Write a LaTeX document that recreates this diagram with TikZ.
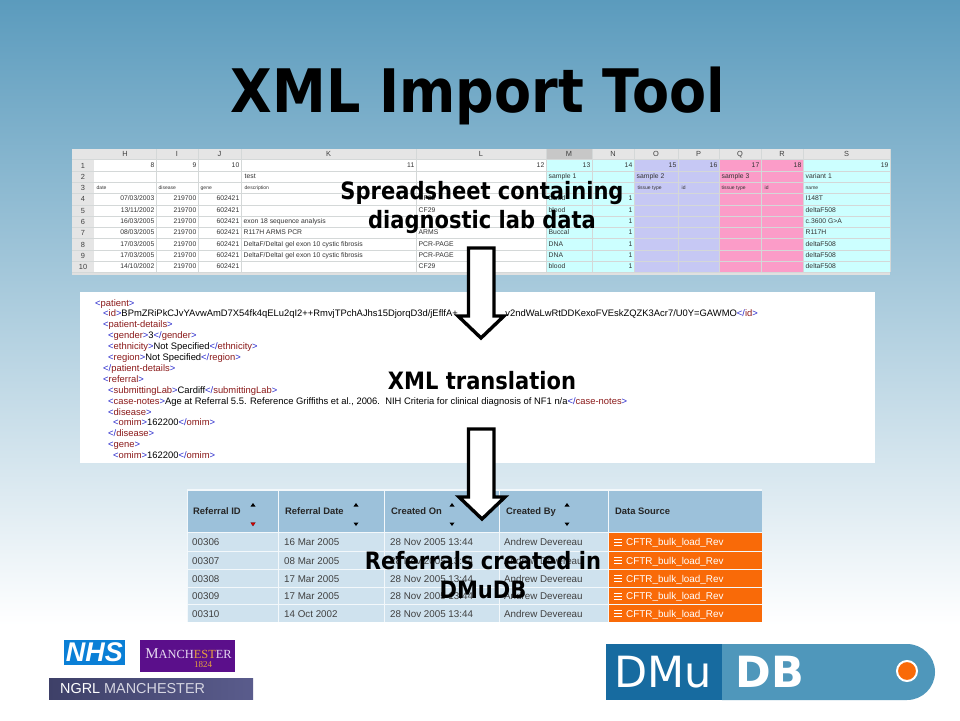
\documentclass[tikz,border=0pt]{standalone}
\usepackage{fontspec}
\setmainfont{Liberation Sans}
\newfontfamily\labelfont[FakeStretch=0.88]{DejaVu Sans}
\newfontfamily\titlefont[FakeStretch=0.9]{DejaVu Sans}
\newfontfamily\logofont{DejaVu Sans}
\newfontfamily\serifont{Liberation Serif}

\definecolor{xmlblue}{HTML}{2A2ACC}
\definecolor{xmlred}{HTML}{8B1A1A}
\definecolor{tablehead}{HTML}{9CC1DA}
\definecolor{tablerow}{HTML}{CFE2EE}
\definecolor{srcorange}{HTML}{F96A08}
\definecolor{cellgrid}{HTML}{D4D8D8}
\definecolor{bgtop}{HTML}{5B9BBD}
\definecolor{bgmid}{HTML}{A8CADC}
\definecolor{sheetcyan}{HTML}{CCFFFF}
\definecolor{sheetblue}{HTML}{C6C8F4}
\definecolor{sheetpink}{HTML}{FB9CC8}
\definecolor{nhsblue}{HTML}{0A7FD6}
\definecolor{uompurple}{HTML}{5B0F8B}
\definecolor{uomtext}{HTML}{E6D8F0}
\definecolor{uomgold}{HTML}{E8A33C}
\definecolor{ngrlleft}{HTML}{3E4068}
\definecolor{ngrlright}{HTML}{5A5C8C}
\definecolor{dmudark}{HTML}{176BA0}
\definecolor{dmulight}{HTML}{4F97BB}

\pgfdeclareverticalshading{slidebg}{100bp}{
  color(0bp)=(white); color(31.6bp)=(white); color(54.9bp)=(bgmid); color(75bp)=(bgtop); color(100bp)=(bgtop)}

\newcommand{\xtag}[1]{{\color{xmlblue}<}{\color{xmlred}#1}{\color{xmlblue}>}}
\newcommand{\xend}[1]{{\color{xmlblue}</}{\color{xmlred}#1}{\color{xmlblue}>}}

\tikzset{
  bigarrow/.style={draw=black, fill=white, line width=3.4pt, miter limit=10},
  overlabel/.style={font=\labelfont\bfseries\fontsize{23.9}{29}\selectfont, anchor=base, text=black},
  gridtext/.style={font=\fontsize{6.8}{8}\selectfont, text=black!80, inner sep=1.5pt, text height=5pt, text depth=1.5pt},
  headtext/.style={font=\fontsize{7.4}{8}\selectfont, text=black!75, inner sep=0pt, text height=5.5pt, text depth=0pt},
  tinytext/.style={font=\fontsize{5}{6}\selectfont, text=black!80, inner sep=1.5pt, text height=5pt, text depth=1.5pt},
  xmlline/.style={font=\fontsize{9.4}{11}\selectfont, anchor=west, inner sep=0pt, text height=7pt, text depth=2pt},
  refhead/.style={font=\bfseries\fontsize{9.4}{10}\selectfont, text=black!85, anchor=west, inner sep=0pt, text height=7pt, text depth=2pt},
  refcell/.style={font=\fontsize{9.8}{11}\selectfont, text=black!75, anchor=west, inner sep=0pt, text height=7pt, text depth=2pt},
  srccell/.style={font=\fontsize{9.9}{11}\selectfont, text=white, anchor=west, inner sep=0pt, text height=7pt, text depth=2pt},
}

\begin{document}
\begin{tikzpicture}[x=1pt, y=-1pt]
  \useasboundingbox (0, 0) rectangle (960, 720);
  \shade[shading=slidebg] (0, 0) rectangle (960, 720);

  \node[font=\titlefont\bfseries\fontsize{60}{70}\selectfont, anchor=base] (title) at (478, 112) {XML Import Tool};

  % spreadsheet
  \fill[white] (72, 149) rectangle (890, 275);
  \fill[black!10] (72, 149) rectangle (890, 159);
  \fill[black!10] (72, 159) rectangle (94, 272);
  \fill[black!22] (546, 149) rectangle (592, 159);
  \fill[sheetcyan] (546, 159) rectangle (634, 272);
  \fill[sheetcyan] (803, 159) rectangle (890, 272);
  \fill[sheetblue] (634, 159) rectangle (719, 272);
  \fill[sheetpink] (719, 159) rectangle (803, 272);
  \fill[black!12] (72, 272) rectangle (890, 275);
  \foreach \r in {0,...,10}
    \draw[cellgrid, thin] (72, 159.5 + \r*11.3) -- (890, 159.5 + \r*11.3);
  \foreach \c/\n/\cr/\v in {94/H/156/8, 156/I/198/9, 198/J/241/10, 241/K/416/11, 416/L/546/12, 546/M/592/13, 592/N/634/14, 634/O/678/15, 678/P/719/16, 719/Q/761/17, 761/R/803/18, 803/S/890/19} {
    \draw[cellgrid, thin] (\cr, 149) -- (\cr, 272);
    \node[headtext] (col\n) at ({(\c + \cr)/2}, 154) {\n};
    \node[gridtext, anchor=east] (num\n) at (\cr, 165.5) {\v};
  }
  \foreach \r in {1,...,10}
    \node[headtext] (rowhead\r) at (83, 154 + \r*11.3) {\r};

  \node[gridtext, anchor=west] (testcell) at (243, 176.8) {test};
  \foreach \c/\t in {547/sample 1, 635/sample 2, 720/sample 3, 804/variant 1}
    \node[gridtext, anchor=west] at (\c, 176.8) {\t};
  \foreach \c/\t in {95/date, 157/disease, 199/gene, 243/description, 636/tissue type, 680/id, 720/tissue type, 763/id, 804/name}
    \node[tinytext, anchor=west] at (\c, 188.1) {\t};

  \foreach \r/\d/\k/\l/\m/\s in {
    4/{07/03/2003}//CF29/blood/I148T,
    5/{13/11/2002}//CF29/blood/deltaF508,
    6/{16/03/2005}/exon 18 sequence analysis///c.3600 G>A,
    7/{08/03/2005}/R117H ARMS PCR/ARMS/Buccal/R117H,
    8/{17/03/2005}/{DeltaF/DeltaI gel exon 10 cystic fibrosis}/PCR-PAGE/DNA/deltaF508,
    9/{17/03/2005}/{DeltaF/DeltaI gel exon 10 cystic fibrosis}/PCR-PAGE/DNA/deltaF508,
    10/{14/10/2002}//CF29/blood/deltaF508} {
    \node[gridtext, anchor=east] at (156, 154 + \r*11.3) {\d};
    \node[gridtext, anchor=east] at (198, 154 + \r*11.3) {219700};
    \node[gridtext, anchor=east] at (241, 154 + \r*11.3) {602421};
    \node[gridtext, anchor=west] at (242, 154 + \r*11.3) {\k};
    \node[gridtext, anchor=west] at (417, 154 + \r*11.3) {\l};
    \node[gridtext, anchor=west] at (547, 154 + \r*11.3) {\m};
    \node[gridtext, anchor=east] at (634, 154 + \r*11.3) {1};
    \node[gridtext, anchor=west] at (804, 154 + \r*11.3) {\s};
  }

  % xml listing
  \fill[white] (80, 292) rectangle (875, 463);
  \foreach \i/\x/\t in {
    0/95/\xtag{patient},
    2/103/\xtag{patient-details},
    3/108/{\xtag{gender}3\xend{gender}},
    4/108/{\xtag{ethnicity}Not Specified\xend{ethnicity}},
    5/108/{\xtag{region}Not Specified\xend{region}},
    6/103/\xend{patient-details},
    7/103/\xtag{referral},
    8/108/{\xtag{submittingLab}Cardiff\xend{submittingLab}},
    9/108/{\xtag{case-notes}Age at Referral 5.5. Reference Griffiths et al., 2006.\ \ NIH Criteria for clinical diagnosis of NF1 n/a\xend{case-notes}},
    10/108/\xtag{disease},
    11/113/{\xtag{omim}162200\xend{omim}},
    12/108/\xend{disease},
    13/108/\xtag{gene},
    14/113/{\xtag{omim}162200\xend{omim}}}
    \node[xmlline] at (\x, 303.5 + \i*10.9) {\t};
  \node[xmlline] (idstart) at (103, 314.4) {\xtag{id}BPmZRiPkCJvYAvwAmD7X54fk4qELu2qI2++RmvjTPchAJhs15DjorqD3d/jEflfA+};
  \node[xmlline, anchor=east] (idend) at (758, 314.4) {v2ndWaLwRtDDKexoFVEskZQZK3Acr7/U0Y=GAWMO\xend{id}};

  % referral table
  \fill[white!88!tablehead] (187, 489) rectangle (762, 622);
  \fill[tablehead] (188, 491) rectangle (278, 532);
  \fill[tablehead] (279, 491) rectangle (384, 532);
  \fill[tablehead] (385, 491) rectangle (499, 532);
  \fill[tablehead] (500, 491) rectangle (608, 532);
  \fill[tablehead] (609, 491) rectangle (762, 532);
  \node[refhead] (headid) at (193, 512) {Referral ID};
  \node[refhead] (headdate) at (285, 512) {Referral Date};
  \node[refhead] (headon) at (391, 512) {Created On};
  \node[refhead] (headby) at (506, 512) {Created By};
  \node[refhead] (headsrc) at (615, 512) {Data Source};
  \foreach \x in {253, 356, 452, 567} {
    \fill[black] (\x - 2.5, 506.5) -- (\x + 2.5, 506.5) -- (\x, 503) -- cycle;
    \fill[black] (\x - 2.5, 522.5) -- (\x + 2.5, 522.5) -- (\x, 526) -- cycle;
  }
  \fill[red!80!black] (250.5, 522.5) -- (255.5, 522.5) -- (253, 526) -- cycle;
  \foreach \t/\b/\id/\d in {533/551/00306/16 Mar 2005, 552/569/00307/08 Mar 2005, 570/587/00308/17 Mar 2005, 588/604/00309/17 Mar 2005, 605/622/00310/14 Oct 2002} {
    \fill[tablerow] (188, \t) rectangle (278, \b);
    \fill[tablerow] (279, \t) rectangle (384, \b);
    \fill[tablerow] (385, \t) rectangle (499, \b);
    \fill[tablerow] (500, \t) rectangle (608, \b);
    \fill[srcorange] (609, \t) rectangle (762, \b);
    \node[refcell] at (192, {(\t + \b)/2 + 1}) {\id};
    \node[refcell] at (284, {(\t + \b)/2 + 1}) {\d};
    \node[refcell] at (390, {(\t + \b)/2 + 1}) {28 Nov 2005 13:44};
    \node[refcell] at (504, {(\t + \b)/2 + 1}) {Andrew Devereau};
    \node[srccell] at (626, {(\t + \b)/2 + 1}) {CFTR\_bulk\_load\_Rev};
    \draw[white, line width=0.7pt] (614, {(\t + \b)/2 - 3}) -- (622, {(\t + \b)/2 - 3}) (614, {(\t + \b)/2}) -- (622, {(\t + \b)/2}) (614, {(\t + \b)/2 + 3}) -- (622, {(\t + \b)/2 + 3});
  }

  % block arrows
  \draw[bigarrow] (468.5, 248) -- (494, 248) -- (494, 316) -- (504, 316) -- (481, 338) -- (458, 316) -- (468.5, 316) -- cycle;
  \draw[bigarrow] (468.5, 429) -- (494, 429) -- (494, 497) -- (505, 497) -- (482, 519) -- (459, 497) -- (468.5, 497) -- cycle;

  \node[overlabel] (sheetlabel) at (482, 199) {Spreadsheet containing};
  \node[overlabel] (sheetlabelb) at (482, 228) {diagnostic lab data};
  \node[overlabel] (xmllabel) at (482, 389) {XML translation};
  \node[overlabel] (reflabel) at (483, 569) {Referrals created in};
  \node[overlabel] (reflabelb) at (483, 598) {DMuDB};

  % logos
  \fill[nhsblue] (64, 640) rectangle (125, 665);
  \node[font=\bfseries\itshape\fontsize{27}{27}\selectfont, text=white, inner sep=0pt] (nhs) at (94.5, 652.5) {NHS};
  \fill[uompurple] (140, 640) rectangle (235, 672);
  \node[font=\serifont\fontsize{15}{16}\selectfont, text=uomtext, inner sep=0pt] (manchester) at (188.5, 654) {M{\fontsize{12.4}{13}\selectfont ANCH}{\color{uomgold}\fontsize{12.4}{13}\selectfont EST}{\fontsize{12.4}{13}\selectfont ER}};
  \node[font=\serifont\fontsize{9}{10}\selectfont, text=uomgold, inner sep=0pt] (year) at (203, 665) {1824};
  \shade[left color=ngrlleft, right color=ngrlright] (49, 678) rectangle (253, 699);
  \node[font=\fontsize{14.4}{15}\selectfont, text=white!75!ngrlright, anchor=west, inner sep=0pt] (ngrl) at (60, 689) {{\color{white}NGRL} MANCHESTER};

  \fill[dmudark] (606, 644) rectangle (722, 700);
  \fill[dmulight] (722, 644) -- (907, 644) arc[start angle=-90, end angle=90, radius=28] -- (722, 700) -- cycle;
  \node[font=\logofont\fontsize{43}{50}\selectfont, text=white, inner sep=0pt] (dmu) at (663, 672) {DMu};
  \node[font=\logofont\bfseries\fontsize{43}{50}\selectfont, text=white, inner sep=0pt] (db) at (770, 672) {DB};
  \filldraw[fill=srcorange, draw=white, line width=2pt] (907, 671) circle (10);
\end{tikzpicture}
\end{document}
